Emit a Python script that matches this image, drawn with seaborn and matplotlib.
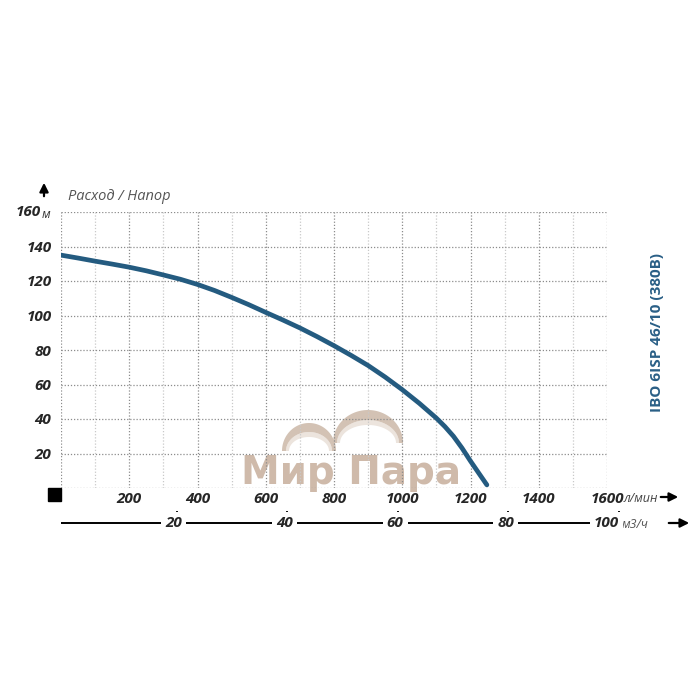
import numpy as np
import matplotlib
matplotlib.use("Agg")
import matplotlib.pyplot as plt
import seaborn as sns
from matplotlib.patches import Polygon, Rectangle

# Head curve (flow in l/min, head in m)
flow_lpm = [0, 50, 100, 150, 200, 250, 300, 350, 400, 450, 500, 550, 600, 650, 700, 750,
            800, 850, 900, 950, 1000, 1050, 1100, 1125, 1150, 1175, 1200, 1225, 1248]
head_m = [135, 133.3, 131.5, 129.8, 128, 125.9, 123.5, 121, 118, 114.5, 110.5, 106.3, 101.8,
          97.4, 92.8, 87.8, 82.5, 76.9, 71, 64.3, 57, 49.1, 40.5, 35.6, 30, 23.2, 15.6, 8.4, 1.8]

x_ticks = [200, 400, 600, 800, 1000, 1200, 1400, 1600]
y_ticks = [20, 40, 60, 80, 100, 120, 140]
m3h_ticks = [20, 40, 60, 80, 100]
model = "IBO 6ISP 46/10 (380B)"

curve_color = "#245b80"
label_font = dict(fontsize=11, fontweight="bold", fontstyle="italic")

sns.set_style("white")
plt.rcParams["font.family"] = ["Open Sans", "DejaVu Sans"]

fig = plt.figure(figsize=(7, 7), dpi=100)

# overlay in pixel coords for the decorations
ov = fig.add_axes([0, 0, 1, 1])
ov.set_xlim(0, 700)
ov.set_ylim(700, 0)
ov.axis("off")
ov.set_zorder(0)


def crescent(cx, cy, a, b, thick, end, color):
    t = np.linspace(0, np.pi, 60)
    outer = np.column_stack([cx + a * np.cos(t), cy - b * np.sin(t)])
    t = t[::-1]
    inner = np.column_stack([cx + (a - end) * np.cos(t), cy - (b - thick) * np.sin(t)])
    ov.add_patch(Polygon(np.vstack([outer, inner]), closed=True, fc=color, ec="none"))


# watermark
crescent(309, 451, 23, 19, 5, 3, "#ece4dd")
crescent(368, 443, 31, 23, 5, 3, "#ece4dd")
crescent(309, 451, 27, 28, 9, 4, "#d3c2b4")
crescent(368, 443, 35, 33, 10, 4, "#d3c2b4")
ov.text(351, 484, "Мир Пара", fontsize=28, fontweight="bold", color="#cfbaaa",
        ha="center", va="baseline", family=["DejaVu Sans"])

# main chart
ax = fig.add_axes([61 / 700, 212 / 700, 546 / 700, 276 / 700])
ax.set_zorder(2)
ax.patch.set_alpha(0)

sns.lineplot(x=flow_lpm, y=head_m, ax=ax, color=curve_color, linewidth=3.4)
ax.lines[0].set_solid_joinstyle("round")

ax.set_xlim(0, 1600)
ax.set_ylim(0, 160)
ax.set_xticks([0] + x_ticks)
ax.set_xticks(range(100, 1600, 200), minor=True)
ax.set_xticklabels([""] + [str(v) for v in x_ticks])
ax.set_yticks([0] + y_ticks + [160])
ax.set_yticklabels([""] + [str(v) for v in y_ticks] + [""])

ax.grid(which="major", linestyle=(0, (1, 1.5)), color="#8c8c8c", lw=0.9)
ax.grid(which="minor", axis="x", linestyle=(0, (1, 1.5)), color="#c9c9c9", lw=0.9)
ax.tick_params(which="both", length=0)
ax.tick_params(axis="y", pad=7)
ax.tick_params(axis="x", pad=3)
for lab in ax.get_xticklabels() + ax.get_yticklabels():
    lab.set_fontsize(11)
    lab.set_fontweight("bold")
    lab.set_fontstyle("italic")
for s in ax.spines.values():
    s.set_visible(False)

# 160 м label
ax.annotate("160", xy=(0, 160), xytext=(-20, 0), textcoords="offset pixels",
            ha="right", va="center", **label_font)
ax.annotate("м", xy=(0, 160), xytext=(-19, -2), textcoords="offset pixels",
            ha="left", va="center", fontsize=9, fontstyle="italic", color="#333333")

# second flow scale in m3/h
ax2 = fig.add_axes([61 / 700, 1 - 535 / 700, (700 - 61) / 700, 30 / 700])
ax2.set_xlim(-0.92, 114.65)
ax2.set_ylim(0, 1)
ax2.axis("off")
tr = ax2.get_xaxis_transform()
ax2.plot([-1.5, m3h_ticks[-1] - 2], [0.4, 0.4], color="black", lw=1.4, transform=tr)
ax2.vlines(m3h_ticks, 0.6, 0.8, color="black", lw=1.3, transform=tr)
for v in m3h_ticks[:-1]:
    ax2.text(v - 0.5, 0.4, str(v), transform=tr, ha="center", va="center",
             bbox=dict(fc="white", ec="none", pad=3), **label_font)
ax2.text(m3h_ticks[-1], 0.4, str(m3h_ticks[-1]), transform=tr, ha="right", va="center",
         bbox=dict(fc="white", ec="none", pad=3), **label_font)

# units, arrows, captions
ov.text(624, 498, "л/мин", fontsize=9, fontstyle="italic", color="#444444", va="center")
ov.text(622, 524, "м3/ч", fontsize=9, fontstyle="italic", color="#555555", va="center")
arrow = dict(arrowstyle="-|>", color="black", lw=1.6, mutation_scale=13)
ov.annotate("", xy=(681, 497), xytext=(658, 497), arrowprops=arrow)
ov.annotate("", xy=(692, 523), xytext=(666, 523), arrowprops=arrow)
ov.annotate("", xy=(44, 180), xytext=(44, 199), arrowprops=arrow)
ov.add_patch(Rectangle((48, 488), 13, 13, color="black"))
ov.text(68, 197, "Расход / Напор", fontsize=10.5, fontstyle="italic", color="#555555", va="center")
ov.text(657, 333, model, rotation=90, ha="center", va="center",
        fontsize=11, fontweight="bold", color="#2a5f86")

fig.savefig("out.png", dpi=100)
